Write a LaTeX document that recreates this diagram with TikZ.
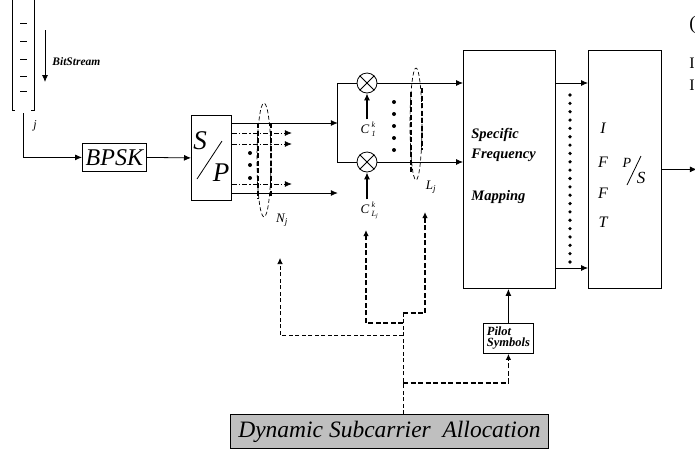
\documentclass[tikz,border=0pt]{standalone}
\usepackage{fontspec}
\setmainfont{Liberation Serif}
\usetikzlibrary{arrows.meta,calc}
\begin{document}
\begin{tikzpicture}[x=1pt,y=-1pt, line width=0.8pt,
 arr/.style={-{Latex[length=7pt,width=6pt]}},
 sarr/.style={-{Latex[length=6pt,width=5.5pt]}},
 box/.style={draw, inner sep=0pt, anchor=north west},
 thindash/.style={dash pattern=on 4pt off 2.5pt, line width=0.7pt},
 thickdash/.style={dash pattern=on 5pt off 2.5pt, line width=1.4pt},
 dashdot/.style={dash pattern=on 5pt off 2pt on 1.5pt off 2pt, line width=0.7pt},
 mult/.style={draw, circle, minimum size=20pt, inner sep=0pt},
 dot/.style={circle, fill, inner sep=0pt, minimum size=4pt},
 lbl/.style={inner sep=0pt},
 sym/.style={lbl, font=\fontsize{13}{13}\selectfont\itshape},
 idx/.style={lbl, font=\fontsize{8}{8}\selectfont\itshape},
 maptext/.style={lbl, anchor=west, font=\fontsize{14.5}{14.5}\selectfont\bfseries\itshape},
 iffttext/.style={lbl, font=\fontsize{16}{16}\selectfont\itshape},
]
\useasboundingbox (0,0) rectangle (695,451);

% bit stream stack
\draw (12,0) -- (12,110) -- (15,110);
\draw (34,0) -- (34,110) -- (31,110);
\foreach \y in {23,41,59,76,91} \draw (20,\y) -- (27,\y);
\coordinate (bsa) at (45,30);
\coordinate (bsb) at (45,82);
\draw[arr] (bsa) -- (bsb);
\node[lbl, anchor=west, font=\fontsize{11.5}{11.5}\selectfont\bfseries\itshape] (bs) at (52,62) {BitStream};
\node[lbl, font=\fontsize{12}{12}\selectfont\itshape] (j) at (35,126) {j};

% BPSK
\node[box, minimum width=64pt, minimum height=28pt, font=\fontsize{24}{24}\selectfont\itshape] (bpsk) at (82,143) {BPSK};
\coordinate (sb) at (23,113);
\draw[arr] (sb) |- (bpsk.west);

% S/P
\node[box, minimum width=40pt, minimum height=85pt] (sp) at (191,115) {};
\draw[arr] (bpsk.east) -- (sp.west);
\node[lbl, font=\fontsize{27}{27}\selectfont\itshape] (spS) at (200,141) {S};
\node[lbl, font=\fontsize{27}{27}\selectfont\itshape] (spP) at (221,173) {P};
\draw (197,179) -- (222,141);

% S/P outputs
\draw[arr] ($(sp.north east)+(0,8)$) -- ++(106,0);
\draw[arr] ($(sp.north east)+(0,78)$) -- ++(106,0);
\draw[dashdot, arr] ($(sp.north east)+(0,18)$) -- ++(60,0);
\draw[dashdot, arr] ($(sp.north east)+(0,29)$) -- ++(60,0);
\draw[dashdot, arr] ($(sp.north east)+(0,69)$) -- ++(60,0);
\foreach \y in {153,165,178} \node[dot] at (250,\y) {};

% N_j ellipse
\draw[thindash] (264,160) ellipse [x radius=7, y radius=57];
\draw[thickdash] (258,123) -- (258,199);
\draw[thickdash] (271,123) -- (271,197);
\node[sym] (nj) at (282,220) {N\textsubscript{j}};

% multipliers
\node[mult] (m1) at (367,83) {};
\node[mult] (m2) at (367,162) {};
\draw (m1.north west) -- (m1.south east) (m1.north east) -- (m1.south west);
\draw (m2.north west) -- (m2.south east) (m2.north east) -- (m2.south west);
\coordinate (bt) at (337,83);
\coordinate (bb) at (337,162);
\draw (m1.west) -- (bt) -- (bb) -- (m2.west);
\node[sym] (c1) at (365,129) {C};
\node[idx, anchor=south west] (c1k) at ($(c1.east)+(1.5,-0.8)$) {k};
\node[idx, anchor=north west] (c1s) at ($(c1.east)+(1.5,1.6)$) {1};
\node[sym] (c2) at (365,209) {C};
\node[idx, anchor=south west] (c2k) at ($(c2.east)+(1.5,-0.8)$) {k};
\node[idx, anchor=north west] (c2s) at ($(c2.east)+(1.5,1.6)$) {L\textsubscript{j}};
\draw[arr, line width=1.2pt] ($(m1.south)+(0,26)$) -- (m1.south);
\draw[arr, line width=1.2pt] ($(m2.south)+(0,27)$) -- (m2.south);
\foreach \y in {102,114,126,138,150} \node[dot] at (394,\y) {};

% L_j ellipse
\draw[thindash] (416,124) ellipse [x radius=6, y radius=56];
\draw[thickdash] (411,92) -- (411,172);
\draw[thickdash] (422,88) -- (422,150);
\node[sym] (lj) at (431,187) {L\textsubscript{j}};

% mapping
\node[box, minimum width=92pt, minimum height=238pt] (map) at (463,50) {};
\draw[arr] (m1.east) -- (map.west |- m1);
\draw[arr] (m2.east) -- (map.west |- m2);
\node[maptext] (t1) at (471,135) {Specific};
\node[maptext] (t2) at (471,155) {Frequency};
\node[maptext] (t3) at (471,197) {Mapping};

% IFFT
\node[box, minimum width=73pt, minimum height=238pt] (ifft) at (588,50) {};
\draw[arr] ($(map.north east)+(0,33)$) -- ($(ifft.north west)+(0,33)$);
\draw[arr] ($(map.north east)+(0,218)$) -- ($(ifft.north west)+(0,218)$);
\foreach \i in {0,...,20} \node[dot, minimum size=3.6pt] at (570,{95+\i*8.35}) {};
\node[iffttext] (fi) at (603,128) {I};
\node[iffttext] (ff1) at (603,162) {F};
\node[iffttext] (ff2) at (603,193) {F};
\node[iffttext] (ft) at (603,222) {T};
\node[lbl, font=\fontsize{14}{14}\selectfont\itshape] (psP) at (627,163) {P};
\node[lbl, font=\fontsize{17}{17}\selectfont\itshape] (psS) at (641,178) {S};
\draw (627,185) -- (641,156);
\draw[arr] (ifft.east) -- ++(35,0);

% fragments at right edge
\node[lbl, anchor=west, font=\fontsize{19}{19}\selectfont] (f1) at (689,25) {(};
\node[lbl, anchor=west, font=\fontsize{16}{16}\selectfont] (f2) at (689,63) {I};
\node[lbl, anchor=west, font=\fontsize{16}{16}\selectfont] (f3) at (689,85) {I};

% pilot symbols
\node[box, minimum width=50pt, minimum height=30pt, align=left, font=\fontsize{12.5}{11}\selectfont\bfseries\itshape] (pilot) at (483,323) {Pilot\\Symbols};
\draw[arr, line width=1.2pt] (pilot.north) -- (pilot.north |- map.south);

% dynamic subcarrier allocation
\node[draw, fill=gray!50, anchor=north west, minimum width=318pt, minimum height=34pt, inner sep=0pt, font=\fontsize{23.5}{23.5}\selectfont\itshape] (dsa) at (230,414) {Dynamic Subcarrier\ \ Allocation};

% control lines
\coordinate (t0) at (403,414);
\coordinate (t1) at (403,313);
\coordinate (tn) at (403,335);
\coordinate (tc) at (403,323);
\coordinate (tp) at (403,383);
\coordinate (an) at (280,258);
\coordinate (ac) at (366,230);
\coordinate (al) at (425,212);
\draw[thindash] (t0) -- (t1);
\draw[thindash, sarr] (tn) -| (an);
\draw[thickdash, sarr] (tc) -| (ac);
\draw[thickdash, sarr] (t1) -| (al);
\draw[thickdash, sarr] (tp) -| (pilot.south);
\end{tikzpicture}
\end{document}
